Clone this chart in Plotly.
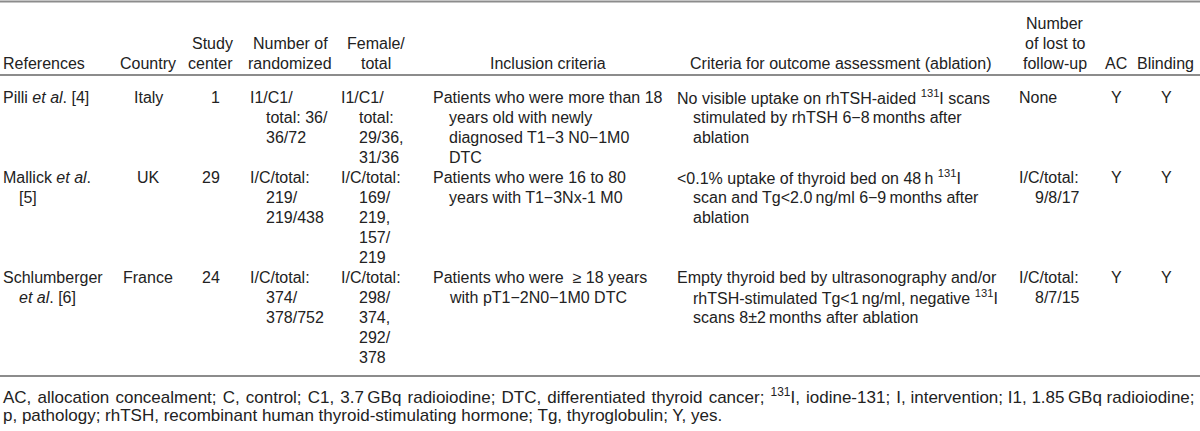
import plotly.graph_objects as go

# ---------------- data ----------------
col_headers = [
    ["References"],
    ["Country"],
    ["Study", "center"],
    ["Number of", "randomized"],
    ["Female/", "total"],
    ["Inclusion criteria"],
    ["Criteria for outcome assessment (ablation)"],
    ["Number", "of lost to", "follow-up"],
    ["AC"],
    ["Blinding"],
]

references = [
    ["Pilli <i>et al</i>. [4]"],
    ["Mallick <i>et al</i>.", "[5]"],
    ["Schlumberger", "<i>et al</i>. [6]"],
]
countries = [["Italy"], ["UK"], ["France"]]
study_centers = [["1"], ["29"], ["24"]]
randomized = [
    ["I1/C1/", "total: 36/", "36/72"],
    ["I/C/total:", "219/", "219/438"],
    ["I/C/total:", "374/", "378/752"],
]
female_total = [
    ["I1/C1/", "total:", "29/36,", "31/36"],
    ["I/C/total:", "169/", "219,", "157/", "219"],
    ["I/C/total:", "298/", "374,", "292/", "378"],
]
inclusion = [
    ["Patients who were more than 18", "years old with newly",
     "diagnosed T1\u22123 N0\u22121M0", "DTC"],
    ["Patients who were 16 to 80", "years with T1\u22123Nx-1 M0"],
    ["Patients who were \u00a0\u2265 18 years", "with pT1\u22122N0\u22121M0 DTC"],
]
outcome = [
    ["No visible uptake on rhTSH-aided <sup>131</sup>I scans",
     "stimulated by rhTSH 6\u22128\u2009months after", "ablation"],
    ["&lt;0.1% uptake of thyroid bed on 48\u2009h <sup>131</sup>I",
     "scan and Tg&lt;2.0\u2009ng/ml 6\u22129\u2009months after", "ablation"],
    ["Empty thyroid bed by ultrasonography and/or",
     "rhTSH-stimulated Tg&lt;1\u2009ng/ml, negative <sup>131</sup>I",
     "scans 8\u00b12\u2009months after ablation"],
]
lost_follow_up = [["None"], ["I/C/total:", "9/8/17"], ["I/C/total:", "8/7/15"]]
ac = [["Y"], ["Y"], ["Y"]]
blinding = [["Y"], ["Y"], ["Y"]]

footnote = [
    "AC, allocation concealment; C, control; C1, 3.7\u2009GBq radioiodine; DTC, differentiated thyroid cancer; "
    "<sup>131</sup>I, iodine-131; I, intervention; I1, 1.85\u2009GBq radioiodine;",
    "p, pathology; rhTSH, recombinant human thyroid-stimulating hormone; Tg, thyroglobulin; Y, yes.",
]

columns = [references, countries, study_centers, randomized, female_total,
           inclusion, outcome, lost_follow_up, ac, blinding]

# ---------------- layout / style ----------------
W, H = 1200, 431
FONT = "Liberation Sans, Arial, Helvetica, sans-serif"
FS = 16
FS_FOOT = 17
COLOR = "#222222"
RULE = "#8c8c8c"

# (x, anchor, hanging indent) for body cells
body_style = [
    (3, "left", 16), (148, "center", 0), (220, "right", 0), (250, "left", 16),
    (341, "left", 18), (433, "left", 16), (677, "left", 16), (1019, "left", 16),
    (1116, "center", 0), (1166, "center", 0),
]
head_style = [
    (3, "left"), (148, "center"), (233, "right"), (290, "center"), (376, "center"),
    (548, "center"), (840, "center"), (1055, "center"), (1116, "center"), (1165, "center"),
]
LINE = 20
HEAD_LAST = 63
BODY_TOP = 97
RULES = [1.5, 75, 376]
FOOT_Y = [395.5, 415.5]
JUSTIFY_GAPS = 14  # word gaps widened on the justified first footnote line

fig = go.Figure()


def put(x, y, text, anchor, size=FS):
    fig.add_annotation(x=x, y=y, xref="x", yref="y", text=text, showarrow=False,
                       xanchor=anchor, yanchor="middle", align=anchor,
                       borderpad=0, borderwidth=0,
                       font=dict(family=FONT, size=size, color=COLOR))


# headers (bottom-aligned)
for lines, (x, anc) in zip(col_headers, head_style):
    n = len(lines)
    for i, t in enumerate(lines):
        put(x, HEAD_LAST - (n - 1 - i) * LINE, t, anc)

# body rows
row_top = BODY_TOP
n_rows = len(references)
for r in range(n_rows):
    for col, (x, anc, ind) in zip(columns, body_style):
        for i, t in enumerate(col[r]):
            put(x + (ind if i > 0 else 0), row_top + i * LINE, t, anc)
    row_top += LINE * max(len(c[r]) for c in columns)

# rules
for y in RULES:
    fig.add_shape(type="line", xref="x", yref="y", x0=0, x1=W, y0=y, y1=y,
                  line=dict(color=RULE, width=2))

# footnote (first line justified by slightly widening word gaps)
for k, (y, t) in enumerate(zip(FOOT_Y, footnote)):
    if k == 0:
        t = t.replace(" ", " \u200a", JUSTIFY_GAPS)
    put(3, y, t, "left", size=FS_FOOT)

fig.update_xaxes(range=[0, W], visible=False, fixedrange=True)
fig.update_yaxes(range=[H, 0], visible=False, fixedrange=True)
fig.update_layout(width=W, height=H, margin=dict(l=0, r=0, t=0, b=0),
                  paper_bgcolor="white", plot_bgcolor="white", showlegend=False)

fig.write_html("out.html", config={"displayModeBar": False, "staticPlot": True},
               post_script="document.body.style.margin='0';document.body.style.overflow='hidden';")
